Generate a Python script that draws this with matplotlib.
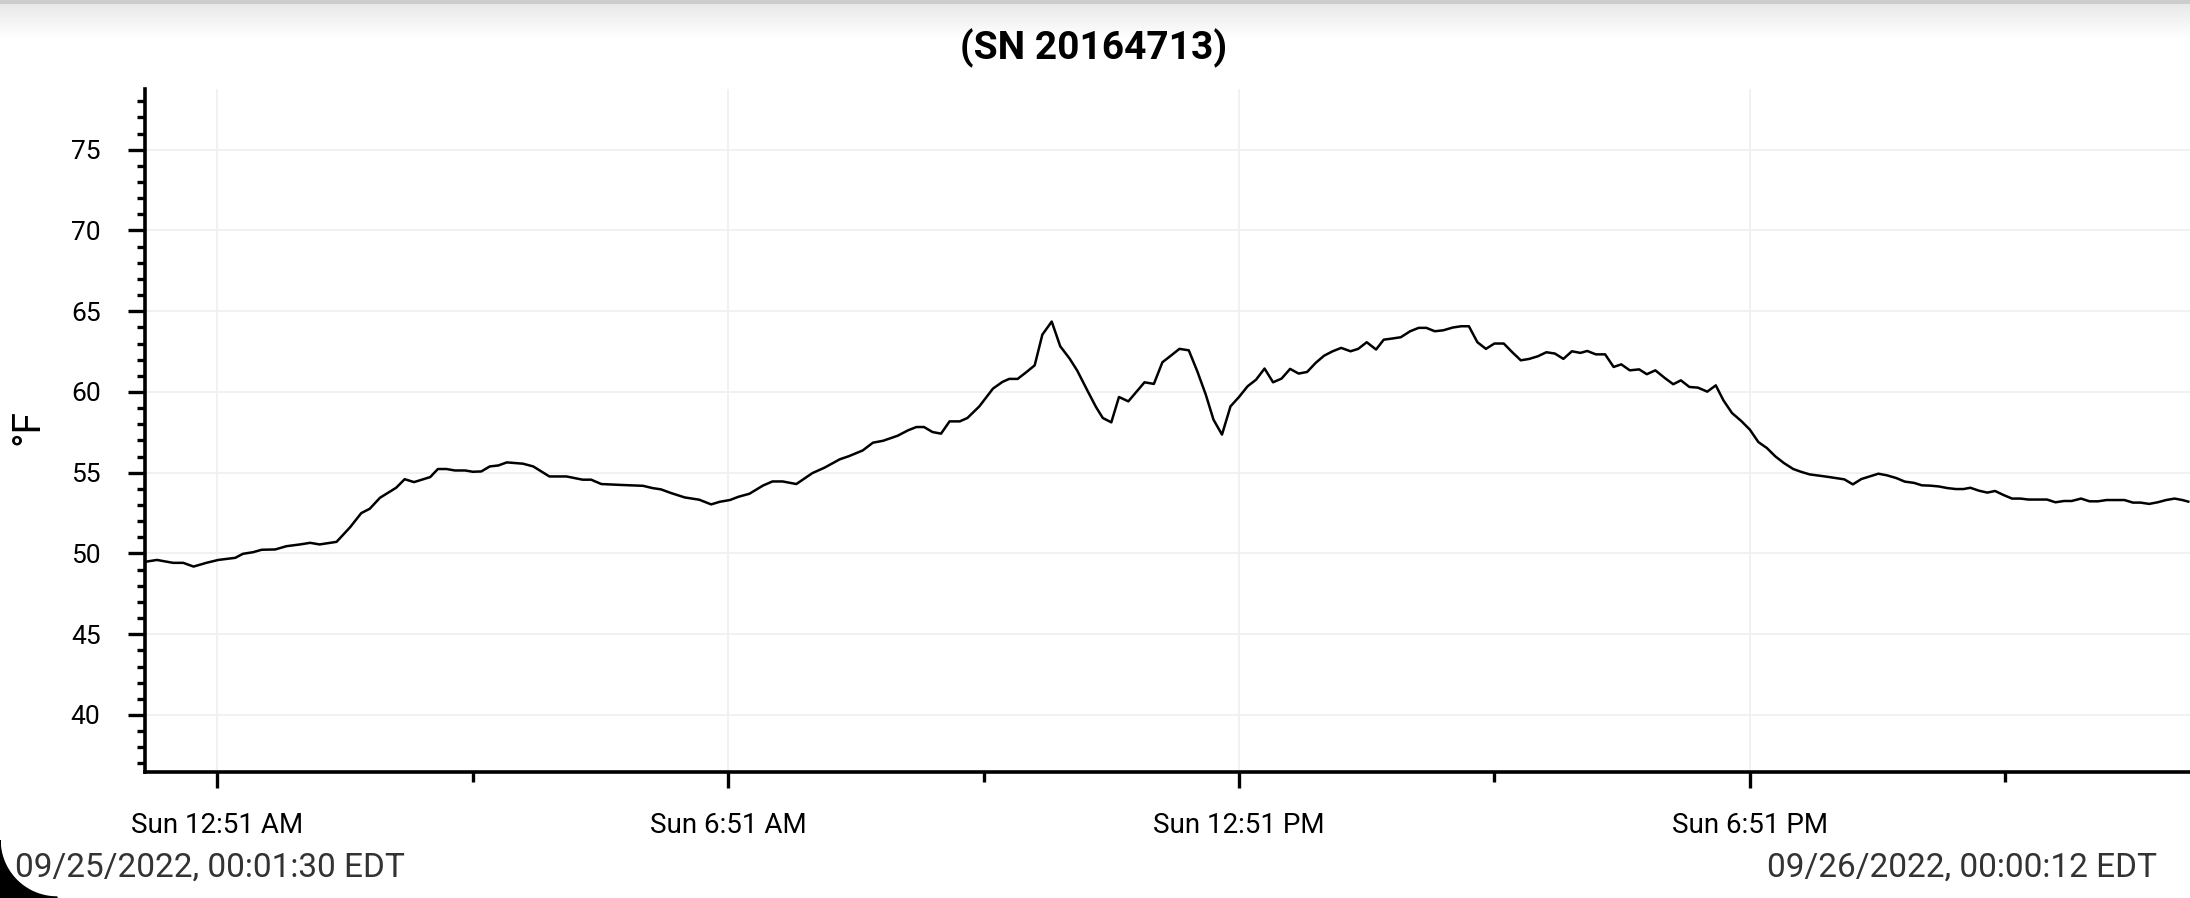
import matplotlib
matplotlib.use("Agg")
import matplotlib.pyplot as plt
from matplotlib.patches import Polygon
import numpy as np
import pandas as pd

plt.rcParams['font.family'] = ['Roboto', 'DejaVu Sans']

title = "(SN 20164713)"
start_label = "09/25/2022, 00:01:30 EDT"
end_label = "09/26/2022, 00:00:12 EDT"
unit_label = "°F"

# hours after midnight, 09/25/2022
hours = [0.02, 0.14, 0.33, 0.45, 0.57, 0.72, 0.86, 1.06, 1.15, 1.27, 1.37, 1.53,
         1.66, 1.82, 1.94, 2.05, 2.25, 2.41, 2.54, 2.64, 2.76, 2.95, 3.05, 3.16,
         3.35, 3.44, 3.54, 3.64, 3.76, 3.85, 3.95, 4.05, 4.15, 4.25, 4.44, 4.56,
         4.75, 4.95, 5.14, 5.24, 5.36, 5.61, 5.85, 5.96, 6.06, 6.18, 6.34, 6.51,
         6.65, 6.75, 6.87, 6.97, 7.10, 7.26, 7.37, 7.49, 7.65, 7.84, 7.98, 8.16,
         8.27, 8.43, 8.55, 8.67, 8.84, 8.96, 9.06, 9.15, 9.25, 9.35, 9.45, 9.57,
         9.66, 9.80, 9.96, 10.07, 10.15, 10.25, 10.35, 10.45, 10.54, 10.65, 10.75,
         10.86, 10.95, 11.07, 11.17, 11.25, 11.35, 11.44, 11.55, 11.64, 11.74,
         11.85, 11.95, 12.05, 12.15, 12.26, 12.36, 12.46, 12.55, 12.65, 12.75,
         12.85, 12.95, 13.05, 13.15, 13.25, 13.35, 13.45, 13.55, 13.65, 13.75,
         13.85, 13.95, 14.05, 14.16, 14.25, 14.35, 14.46, 14.55, 14.65, 14.75,
         14.86, 14.96, 15.05, 15.15, 15.25, 15.36, 15.46, 15.55, 15.65, 15.75,
         15.85, 15.96, 16.06, 16.16, 16.26, 16.36, 16.46, 16.56, 16.66, 16.76,
         16.86, 16.94, 17.04, 17.15, 17.25, 17.34, 17.44, 17.55, 17.64, 17.74,
         17.85, 17.95, 18.04, 18.14, 18.24, 18.35, 18.45, 18.54, 18.64, 18.75,
         18.85, 18.95, 19.05, 19.15, 19.25, 19.36, 19.45, 19.55, 19.65, 19.76,
         19.86, 19.96, 20.06, 20.16, 20.27, 20.36, 20.46, 20.57, 20.67, 20.78,
         20.87, 20.97, 21.07, 21.17, 21.27, 21.36, 21.44, 21.54, 21.64, 21.73,
         21.83, 21.93, 22.03, 22.12, 22.24, 22.34, 22.44, 22.54, 22.63, 22.74,
         22.84, 22.94, 23.04, 23.15, 23.25, 23.35, 23.44, 23.54, 23.64, 23.74,
         23.84, 23.93, 24.00]

temps = [49.50, 49.60, 49.42, 49.42, 49.19, 49.42, 49.60, 49.73, 49.98, 50.08, 50.23, 50.25,
         50.45, 50.56, 50.66, 50.56, 50.72, 51.63, 52.50, 52.77, 53.45, 54.07, 54.60, 54.42,
         54.73, 55.23, 55.23, 55.14, 55.14, 55.06, 55.08, 55.39, 55.45, 55.64, 55.56, 55.39,
         54.77, 54.77, 54.57, 54.57, 54.30, 54.24, 54.19, 54.05, 53.97, 53.74, 53.47, 53.33,
         53.04, 53.20, 53.31, 53.51, 53.70, 54.21, 54.46, 54.46, 54.30, 54.98, 55.31, 55.83,
         56.03, 56.38, 56.86, 56.98, 57.29, 57.62, 57.83, 57.83, 57.52, 57.42, 58.18, 58.18,
         58.39, 59.11, 60.21, 60.62, 60.81, 60.81, 61.22, 61.65, 63.55, 64.36, 62.83,
         62.07, 61.32, 60.08, 59.07, 58.39, 58.12, 59.69, 59.42, 59.98, 60.60,
         60.50, 61.84, 62.25, 62.67, 62.58, 61.28, 59.83, 58.29, 57.36, 59.11,
         59.69, 60.35, 60.76, 61.45, 60.60, 60.83, 61.43, 61.14, 61.24, 61.80,
         62.25, 62.52, 62.73, 62.52, 62.67, 63.08, 62.63, 63.24, 63.31, 63.39,
         63.76, 63.97, 63.97, 63.76, 63.82, 63.99, 64.07, 64.07, 63.08, 62.67,
         63.00, 63.00, 62.46, 61.96, 62.05, 62.21, 62.46, 62.38, 62.05, 62.52,
         62.42, 62.54, 62.33, 62.33, 61.55, 61.71, 61.34, 61.40, 61.10, 61.34,
         60.87, 60.48, 60.72, 60.31, 60.27, 60.02, 60.41, 59.48, 58.70, 58.20,
         57.67, 56.90, 56.53, 56.01, 55.60, 55.23, 55.06, 54.90, 54.83, 54.75,
         54.67, 54.59, 54.28, 54.61, 54.79, 54.94, 54.84, 54.67, 54.45, 54.37,
         54.22, 54.20, 54.15, 54.05, 53.99, 53.99, 54.07, 53.89, 53.77, 53.87,
         53.62, 53.40, 53.40, 53.34, 53.34, 53.34, 53.17, 53.25, 53.25, 53.40,
         53.23, 53.23, 53.31, 53.31, 53.31, 53.15, 53.15, 53.07, 53.17, 53.31,
         53.40, 53.31, 53.21]

major_labels = ["Sun 12:51 AM", "Sun 6:51 AM", "Sun 12:51 PM", "Sun 6:51 PM"]
yticks = [40, 45, 50, 55, 60, 65, 70, 75]

base = pd.Timestamp("2022-09-25 00:00:00")
times = base + pd.to_timedelta(hours, unit="h")
major_ticks = [base + pd.Timedelta(minutes=51) + pd.Timedelta(hours=6 * i) for i in range(4)]
minor_ticks = [t + pd.Timedelta(hours=3) for t in major_ticks]

W, H = 2190, 898
fig = plt.figure(figsize=(W / 100, H / 100), dpi=100)

# grey shade along the top edge
shade = fig.add_axes([0, 1 - 40 / H, 1, 40 / H])
col = np.concatenate([np.full(4, 0.80), np.linspace(0.91, 1.0, 36)])
shade.imshow(col[:, None], cmap="gray", vmin=0, vmax=1, aspect="auto",
             extent=[0, 1, 0, 1])
shade.axis("off")

ax = fig.add_axes([145 / W, 1 - 772 / H, (W - 145) / W, (772 - 89) / H])
ax.plot(times, temps, color="black", lw=1.8)

ax.set_ylim(36.47, 78.76)
ax.set_xlim(base, base + pd.Timedelta(hours=24.02))
ax.set_yticks(yticks)
ax.set_yticks(np.arange(37, 79, 1), minor=True)
ax.set_xticks(major_ticks)
ax.set_xticklabels(major_labels)
ax.set_xticks(minor_ticks, minor=True)

ax.grid(True, which="major", color="#f0f0f0", lw=1.3)
ax.set_axisbelow(True)
for s in ["top", "right"]:
    ax.spines[s].set_visible(False)
for s in ["left", "bottom"]:
    ax.spines[s].set_linewidth(2.6)

ax.tick_params(axis="y", which="major", length=12, width=2.4, labelsize=19, pad=20)
ax.tick_params(axis="y", which="minor", length=6, width=2.4)
ax.tick_params(axis="x", which="major", length=11.5, width=2.4, labelsize=20, pad=17)
ax.tick_params(axis="x", which="minor", length=7, width=2.4)

fig.text(28 / W, 1 - 427 / H, unit_label, rotation=90, ha="center", va="center",
         fontsize=28)
fig.text(1094 / W, 1 - 48 / H, title, ha="center", va="center",
         fontsize=28, fontweight="bold")
fig.text(15 / W, 1 - 877 / H, start_label, ha="left", va="baseline",
         fontsize=24, color="#333333")
fig.text(2157 / W, 1 - 877 / H, end_label, ha="right", va="baseline",
         fontsize=24, color="#333333")

# dark rounded corner at the bottom left
phi = np.linspace(0, np.pi / 2, 30)
cx, cy, r = 57, 840, 57
arc = [((cx - r * np.cos(p)) / 100, (H - (cy + r * np.sin(p))) / 100) for p in phi]
corner = Polygon([(0, 0)] + arc + [(cx / 100, 0)], closed=True,
                 transform=fig.dpi_scale_trans, color="black", zorder=10)
fig.patches.append(corner)

fig.savefig("out.png", dpi=100)
